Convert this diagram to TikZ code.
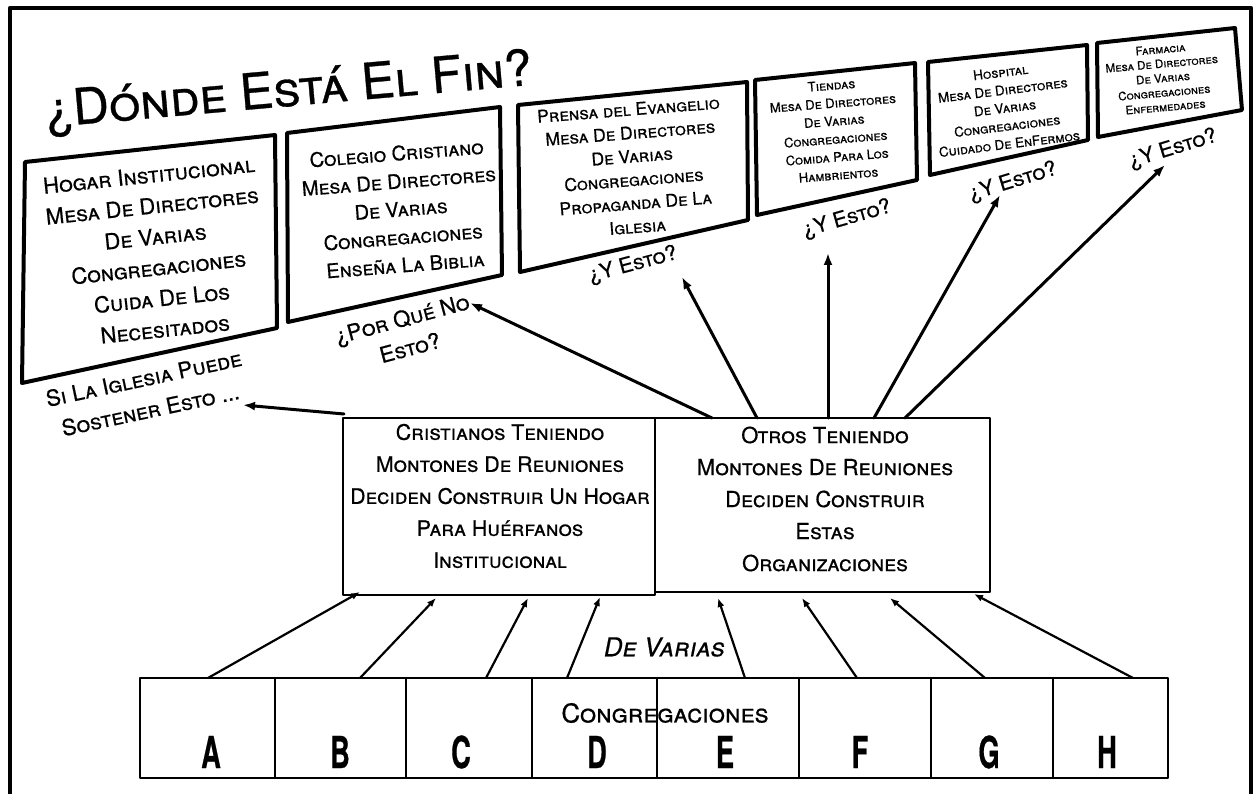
\documentclass[tikz,border=0pt]{standalone}
\usepackage{fontspec}
\setmainfont{TeX Gyre Heros}[FakeBold=0.6]
\usetikzlibrary{arrows.meta}
\newcommand\fsz[2]{\fontsize{#1}{#2}\selectfont}
\begin{document}
\begin{tikzpicture}[x=1pt,y=-1pt, line join=round, line cap=round,
  frame/.style={line width=4.5pt},
  board/.style={draw, line width=4pt},
  txt/.style={align=center, inner sep=0pt},
  upar/.style={line width=3pt, -{Latex[length=12pt,width=9pt]}},
  lowar/.style={line width=2.2pt, -{Latex[length=9pt,width=7pt]}},
  mid/.style={draw, line width=2.6pt, inner sep=0pt},
  cong/.style={draw, line width=2pt, inner sep=0pt, minimum height=100pt},
  letter/.style={inner sep=0pt, font=\fsz{44}{44}\bfseries, xscale=0.62},
]
\useasboundingbox (0,0) rectangle (1259,794);
\draw[frame] (10,794) -- (10,8) -- (1251,8) -- (1251,794);

% title
\node[txt, rotate=5, anchor=base, font=\fsz{50}{55}\scshape] (title) at (290,106) {¿Dónde Está El Fin?};

% board 1
\draw[board] (25,162) coordinate (b1) -- (275,135) -- (277,328) -- (22,383) -- cycle;
\node[txt, rotate=6, font=\fsz{22}{31}\scshape] (t1) at (157,252)
  {Hogar Institucional\\Mesa De Directores\\De Varias\\Congregaciones\\Cuida De Los\\Necesitados};
\node[txt, rotate=12, font=\fsz{22}{32}\scshape] (q1) at (147,394)
  {Si La Iglesia Puede\\Sostener Esto ...};

% board 2
\draw[board] (287,133) coordinate (b2) -- (500,107) -- (502,275) -- (288,322) -- cycle;
\node[txt, rotate=4.5, font=\fsz{20}{28}\scshape] (t2) at (401,209)
  {Colegio Cristiano\\Mesa De Directores\\De Varias\\Congregaciones\\Enseña La Biblia};
\node[txt, rotate=15, font=\fsz{22}{30}\scshape] (q2) at (406,333)
  {¿Por Qué No\\Esto?};

% board 3
\draw[board] (518,105) coordinate (b3) -- (747,82) -- (748,220) -- (520,272) -- cycle;
\node[txt, rotate=4.5, font=\fsz{17.5}{23.5}\scshape] (t3) at (633,168)
  {Prensa del Evangelio\\Mesa De Directores\\De Varias\\Congregaciones\\Propaganda De La\\Iglesia};
\node[txt, rotate=15, font=\fsz{21}{24}\scshape] (q3) at (633,265) {¿Y Esto?};

% board 4
\draw[board] (755,80) coordinate (b4) -- (915,63) -- (917,180) -- (757,215) -- cycle;
\node[txt, rotate=4.5, font=\fsz{13}{18}\scshape] (t4) at (835,130)
  {Tiendas\\Mesa De Directores\\De Varias\\Congregaciones\\Comida Para Los\\Hambrientos};
\node[txt, rotate=16, font=\fsz{21}{24}\scshape] (q4) at (847,219) {¿Y Esto?};

% board 5
\draw[board] (928,62) coordinate (b5) -- (1087,45) -- (1088,140) -- (930,175) -- cycle;
\node[txt, rotate=7, font=\fsz{13.4}{18}\scshape] (t5) at (1005,108)
  {Hospital\\Mesa De Directores\\De Varias\\Congregaciones\\Cuidado De EnFermos};
\node[txt, rotate=17, font=\fsz{21}{24}\scshape] (q5) at (1013,182) {¿Y Esto?};

% board 6
\draw[board] (1097,43) coordinate (b6) -- (1235,28) -- (1242,110) -- (1098,137) -- cycle;
\node[txt, rotate=5, font=\fsz{11.6}{14.5}\scshape] (t6) at (1163,78)
  {Farmacia\\Mesa De Directores\\De Varias\\Congregaciones\\Enfermedades};
\node[txt, rotate=17, font=\fsz{21}{24}\scshape] (q6) at (1173,149) {¿Y Esto?};

% middle boxes
\node[mid, minimum width=312pt, minimum height=177pt] (mL) at (499,506.5) {};
\node[mid, minimum width=335pt, minimum height=174pt] (mR) at (822.5,505) {};
\node[txt, font=\fsz{21.3}{32}\scshape] (tL) at (500,496)
  {Cristianos Teniendo\\Montones De Reuniones\\Deciden Construir Un Hogar\\Para Huérfanos\\Institucional};
\node[txt, font=\fsz{22}{32}\scshape] (tR) at (825,499)
  {Otros Teniendo\\Montones De Reuniones\\Deciden Construir\\Estas\\Organizaciones};

% upper arrows
\coordinate (u1s) at (344,414); \coordinate (u1e) at (243,405);
\coordinate (u2s) at (712,418); \coordinate (u2e) at (470,303);
\coordinate (u3s) at (757,418); \coordinate (u3e) at (682,277);
\coordinate (u4s) at (828,418); \coordinate (u4e) at (828,253);
\coordinate (u5s) at (874,418); \coordinate (u5e) at (1000,195);
\coordinate (u6s) at (905,418); \coordinate (u6e) at (1165,165);
\foreach \i in {1,...,6} { \draw[upar] (u\i s) -- (u\i e); }

% congregation boxes
\node[cong, minimum width=135pt] (cA) at (207.5,728) {};
\node[cong, minimum width=131pt] (cB) at (340.5,728) {};
\node[cong, minimum width=126pt] (cC) at (469,728) {};
\node[cong, minimum width=125pt] (cD) at (594.5,728) {};
\node[cong, minimum width=142pt] (cE) at (728,728) {};
\node[cong, minimum width=132pt] (cF) at (865,728) {};
\node[cong, minimum width=122pt] (cG) at (992,728) {};
\node[cong, minimum width=115pt] (cH) at (1110.5,728) {};
\node[letter] (lA) at (211,752) {A};
\node[letter] (lB) at (340,752) {B};
\node[letter] (lC) at (461,752) {C};
\node[letter] (lD) at (597,752) {D};
\node[letter] (lE) at (725,752) {E};
\node[letter] (lF) at (860,752) {F};
\node[letter] (lG) at (989,752) {G};
\node[letter] (lH) at (1107,752) {H};

\node[txt, font=\fsz{26}{30}\scshape, xslant=0.2] (dv) at (665,647) {De Varias};
\node[txt, font=\fsz{26}{30}\scshape] (cg) at (665,713) {Congregaciones};

% lower arrows
\coordinate (sA) at (208,678); \coordinate (eA) at (360,592);
\coordinate (sB) at (360,678); \coordinate (eB) at (436,598);
\coordinate (sC) at (486,678); \coordinate (eC) at (528,598);
\coordinate (sD) at (567,678); \coordinate (eD) at (600,597);
\coordinate (sE) at (745,678); \coordinate (eE) at (718,598);
\coordinate (sF) at (857,678); \coordinate (eF) at (802,598);
\coordinate (sG) at (985,678); \coordinate (eG) at (890,598);
\coordinate (sH) at (1133,678); \coordinate (eH) at (974,594);
\foreach \k in {A,...,H} { \draw[lowar] (s\k) -- (e\k); }
\end{tikzpicture}
\end{document}
